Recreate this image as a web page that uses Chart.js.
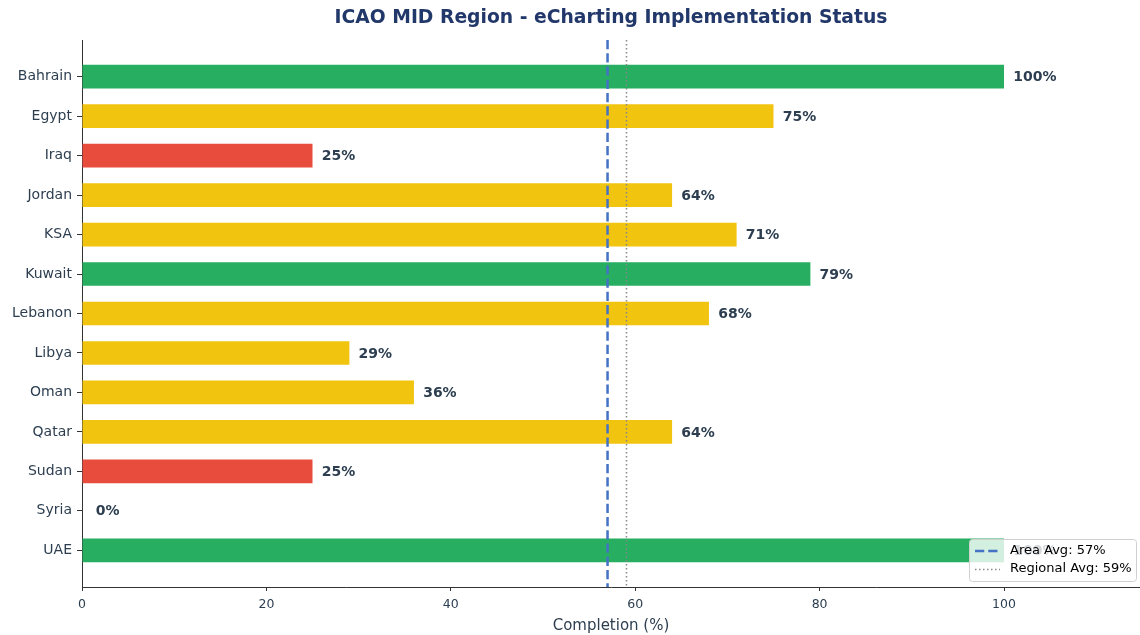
<!DOCTYPE html>
<html>
<head>
<meta charset="utf-8">
<script src="https://cdn.jsdelivr.net/npm/chart.js@4.4.0/dist/chart.umd.min.js"></script>
<style>
  html, body { margin: 0; padding: 0; background: #ffffff; }
  #wrap { width: 1140px; height: 635px; }
</style>
</head>
<body>
<div id="wrap"><canvas id="chart" width="1140" height="635"></canvas></div>
<script>
// Dados
const countries = ['Bahrain', 'Egypt', 'Iraq', 'Jordan', 'KSA', 'Kuwait', 'Lebanon', 'Libya', 'Oman', 'Qatar', 'Sudan', 'Syria', 'UAE'];
const completion = [100, 75, 25, 64, 71, 79, 68, 29, 36, 64, 25, 0, 100];
const xTicks = [0, 20, 40, 60, 80, 100];
const areaAvg = 57;
const regionalAvg = 59;

const GREEN = '#27ae60', YELLOW = '#f1c40f', RED = '#e74c3c';
const TEXT = '#2c3e50';
const FONT = "'DejaVu Sans', sans-serif";

// Verde acima de 75, amarelo acima de 25, vermelho no resto
const colors = completion.map(v => v > 75 ? GREEN : (v > 25 ? YELLOW : RED));

const overlayPlugin = {
    id: 'overlay',
    afterDatasetsDraw(chart) {
        const ctx = chart.ctx;
        const area = chart.chartArea;
        const xs = chart.scales.x;
        const ys = chart.scales.y;

        // Linhas de média
        ctx.save();
        ctx.beginPath();
        ctx.rect(area.left, area.top, area.right - area.left, area.bottom - area.top);
        ctx.clip();
        let px = Math.round(xs.getPixelForValue(regionalAvg)) + 0.5;
        ctx.strokeStyle = '#888888';
        ctx.lineWidth = 1.5;
        ctx.setLineDash([1.5, 2.5]);
        ctx.beginPath();
        ctx.moveTo(px, area.top);
        ctx.lineTo(px, area.bottom);
        ctx.stroke();

        px = xs.getPixelForValue(areaAvg);
        ctx.strokeStyle = '#4472c4';
        ctx.lineWidth = 2.5;
        ctx.setLineDash([9.25, 4]);
        ctx.beginPath();
        ctx.moveTo(px, area.top);
        ctx.lineTo(px, area.bottom);
        ctx.stroke();
        ctx.restore();

        // Rótulos de valor
        ctx.save();
        ctx.font = 'bold 14px ' + FONT;
        ctx.fillStyle = TEXT;
        ctx.textBaseline = 'middle';
        ctx.textAlign = 'left';
        completion.forEach((v, i) => {
            const lx = v > 0 ? xs.getPixelForValue(v + 1) : xs.getPixelForValue(1.5);
            ctx.fillText(v + '%', lx, ys.getPixelForValue(i) + 1);
        });
        ctx.restore();

        // Título centrado na área do gráfico
        ctx.save();
        ctx.font = 'bold 18.75px ' + FONT;
        ctx.fillStyle = '#22386a';
        ctx.textAlign = 'center';
        ctx.textBaseline = 'middle';
        ctx.fillText('ICAO MID Region - eCharting Implementation Status', (area.left + area.right) / 2, 18);
        ctx.restore();

        // Legenda
        ctx.save();
        const lx = 969, ly = 539, lw = 167, lh = 42;
        ctx.fillStyle = 'rgba(255,255,255,0.8)';
        ctx.strokeStyle = '#d0d0d0';
        ctx.lineWidth = 1;
        ctx.beginPath();
        ctx.roundRect(lx + 0.5, ly + 0.5, lw, lh, 3);
        ctx.fill();
        ctx.stroke();

        ctx.strokeStyle = '#4472c4';
        ctx.lineWidth = 2.5;
        ctx.setLineDash([9.25, 4]);
        ctx.beginPath();
        ctx.moveTo(lx + 6, ly + 12);
        ctx.lineTo(lx + 31, ly + 12);
        ctx.stroke();

        ctx.strokeStyle = '#888888';
        ctx.lineWidth = 1.5;
        ctx.setLineDash([1.5, 2.5]);
        ctx.beginPath();
        ctx.moveTo(lx + 6, ly + 30.5);
        ctx.lineTo(lx + 31, ly + 30.5);
        ctx.stroke();

        ctx.font = '13px ' + FONT;
        ctx.fillStyle = '#000000';
        ctx.textBaseline = 'middle';
        ctx.fillText('Area Avg: ' + areaAvg + '%', lx + 41, ly + 12);
        ctx.fillText('Regional Avg: ' + regionalAvg + '%', lx + 41, ly + 30);
        ctx.restore();
    }
};

new Chart(document.getElementById('chart').getContext('2d'), {
    type: 'bar',
    data: {
        datasets: [{
            data: completion.map((v, i) => ({ x: v, y: i })),
            backgroundColor: colors,
            borderWidth: 0,
            barPercentage: 0.6,
            categoryPercentage: 1.0
        }]
    },
    options: {
        indexAxis: 'y',
        responsive: false,
        animation: false,
        layout: { padding: { top: 40, right: 0, left: 0, bottom: 0 } },
        plugins: {
            legend: { display: false },
            title: { display: false },
            tooltip: { enabled: false }
        },
        scales: {
            x: {
                type: 'linear',
                min: 0,
                max: 114.75,
                afterBuildTicks: axis => { axis.ticks = xTicks.map(v => ({ value: v })); },
                afterFit: scale => { scale.height = 48; },
                grid: { drawOnChartArea: false, drawTicks: true, tickLength: 4, color: '#333333' },
                border: { display: true, color: '#333333', width: 1 },
                ticks: { color: TEXT, font: { family: FONT, size: 12.5 }, padding: 6, maxRotation: 0 },
                title: { display: true, text: 'Completion (%)', color: TEXT, font: { family: FONT, size: 15 }, padding: { top: 0, bottom: 0 } }
            },
            y: {
                type: 'linear',
                reverse: true,
                offset: false,
                min: -0.93,
                max: 12.93,
                afterBuildTicks: axis => { axis.ticks = countries.map((_, i) => ({ value: i })); },
                afterFit: scale => { scale.width = 82; },
                grid: { offset: false, drawOnChartArea: false, drawTicks: true, tickLength: 5, color: '#333333' },
                border: { display: true, color: '#333333', width: 1 },
                ticks: {
                    color: TEXT,
                    font: { family: FONT, size: 14 },
                    padding: 5,
                    callback: v => countries[v] ?? ''
                }
            }
        }
    },
    plugins: [overlayPlugin]
});
</script>
</body>
</html>
